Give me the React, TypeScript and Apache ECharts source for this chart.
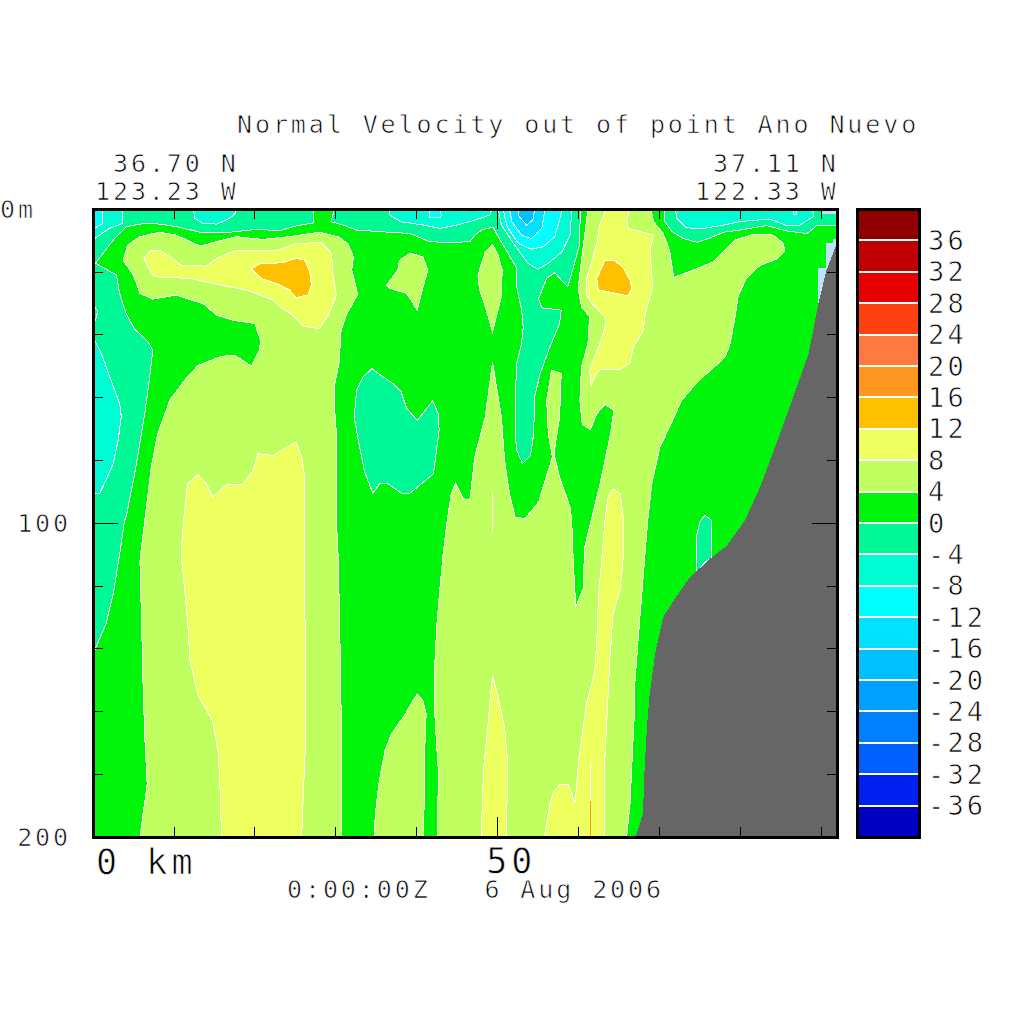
import React, { useEffect, useRef } from "react";
import * as echarts from "echarts";

// Contour levels of the colour bar (m/s-like units, lower bound of each band)
const levelBounds = [-40,-36,-32,-28,-24,-20,-16,-12,-8,-4,0,4,8,12,16,20,24,28,32,36];
const bandColors = ["#0000c0","#0020f0","#0060ff","#0080ff","#00a0ff","#00c0ff","#00e0ff","#00ffff","#00fcd2","#00f896",
  "#00f50a","#c0ff60","#eeff60","#ffc000","#ff9820","#ff7a40","#ff4010","#e80000","#c00000","#900000"];
const LAND = "#666666";
const MISSING = "#c0e0ff";

type P = number[][];
// Contour outlines as [distance km, depth m]
const neg4Left: P = [[0,0],[27.3,0],[27.3,4.4],[25.1,5.4],[23.1,6.9],[20.2,6.5],[16.9,7.4],[13.2,7.4],[10.3,5.6],[8.2,4.8],[6.4,4.6],[4.1,5.6],[2.5,9.9],[0.3,17.3],[2.9,21],[3.3,26.9],[4.1,33.3],[5.1,38.1],[6.8,42.3],[7.4,45],[7,53.5],[6.4,65.2],[5.3,82.2],[4.1,98.1],[3.9,99.2],[3.3,109.8],[2.5,122.6],[1.6,132.2],[0.1,141.2],[0,141.2]];
const neg4Mid: P = [[29.9,0],[29.4,4],[30.9,5.1],[32.6,6.7],[36.7,7.4],[39.2,7.8],[41.6,10.4],[44.1,10.7],[46.6,10.4],[47.2,8.3],[48.2,6.5],[49.5,5.8],[50.1,8.8],[51.1,13.1],[52.4,18.9],[52.4,24.8],[53,32.2],[53.2,37.5],[53,42.8],[52.4,49.2],[52.2,60.9],[52.2,71.5],[52.4,76.9],[53.1,81.1],[54.1,78.5],[54.5,71.5],[54.6,59.8],[55.3,52.4],[56.5,43.9],[57.7,36.5],[57.9,32.2],[55.5,31.5],[55.1,28.5],[56.1,22.1],[57.1,20.3],[57.9,22.6],[58.7,24.8],[59.2,20.5],[60.1,12],[60.3,0]];
const neg4Right: P = [[70.7,0],[70.7,4],[71.6,7.2],[73,9.4],[74.7,10.6],[76.1,9.4],[78,7.4],[80,6.7],[83.3,5.3],[85.8,7],[88.3,7.8],[89.5,5.3],[92,5.1],[92,0]];
const neg4Blob: P = [[34.5,50.8],[35.9,53.5],[37.1,55.6],[38.1,58.2],[38.8,63.6],[40.1,67.3],[42,61.1],[42.7,65.2],[42.8,70.5],[42.1,84.3],[40.4,88],[39.1,90.7],[38.1,90.5],[36.5,87.5],[35.5,87.3],[34.6,90.5],[33.6,83.8],[32.8,73.7],[32.3,66.2],[32.6,57.7],[33.4,53.5]];
const neg4Shelf: P = [[74.6,115.7],[74.6,104.5],[75.1,99.2],[75.7,97.6],[76.5,99.2],[76.5,111.1],[75.7,112.5]];
const neg8Corner: P = [[0,0],[3.7,0],[3.7,4.6],[2,6.2],[0.1,9.6],[0,9.6]];
const neg8TopA: P = [[12.4,0],[12.6,3],[13.6,4.6],[15.3,4.8],[16.9,3],[17.6,1.4],[17.6,0]];
const neg8TopB: P = [[36.7,0],[36.7,1.9],[38,4],[40.8,5.1],[42.9,6.2],[45,5.1],[47,3.7],[49.1,1.9],[49.3,0]];
const neg8Center: P = [[50.1,0],[50.5,5.1],[52,11],[53.8,17.3],[55,19.2],[56.3,17.3],[58,13.6],[59,8.3],[59.2,0]];
const neg8Right: P = [[72,0],[72.2,3],[73.4,6],[75.5,6.2],[78,5.1],[80,4],[83.7,3.2],[85.8,5.3],[87.4,5.1],[89.1,2.4],[89,0]];
const neg8Column: P = [[0,41.2],[0.1,41.2],[1.2,47.1],[2.3,55.1],[3.3,62],[3.5,66.2],[3.1,73.7],[2.5,81.1],[1.6,86.4],[0.8,90.7],[0,90.7]];
const neg8Small: P = [[0,30.6],[0.1,30.6],[0.6,32.7],[0.1,37],[0,37]];
const neg12Corner: P = [[0,0],[1.2,0],[1.2,4.6],[0.1,6.2],[0,6.2]];
const neg12TopB: P = [[41.6,0],[41.6,2.7],[42.9,2.7],[43.1,1.9],[42.8,0]];
const neg12Center: P = [[50.7,0],[51.2,5.6],[52.6,11],[54.2,12.8],[55.7,12],[57.1,8.8],[57.7,3.5],[58,0]];
const neg12Right: P = [[86.6,0],[86.6,1.7],[87,1.7],[87,0]];
const neg16Center: P = [[51.5,0],[51.8,4],[53,8.3],[54.2,9.4],[55.5,6.2],[55.9,0]];
const neg20Center: P = [[52.5,0],[52.7,2.4],[53.6,5.1],[54.4,3.5],[54.6,0]];
const pos4Left: P = [[3.7,16.3],[4.3,11.5],[5.8,8.8],[8.2,7.4],[10.3,8.3],[12,10.4],[13.2,11.8],[15.3,10.4],[17.7,8.8],[21,9.7],[24.3,8.8],[28,7.4],[30.3,8.8],[31.5,11],[32.2,15.2],[32,19.5],[32.6,25.8],[32.7,27.4],[31.3,33.8],[30.6,39.6],[30.5,48.2],[29.9,55.6],[29.8,60.9],[30.1,71.5],[30.1,99.2],[30.3,109.8],[30.5,131.1],[30.7,163],[30.7,200],[5.8,200],[6.7,183.2],[6.4,168.3],[6.2,152.4],[6,131.1],[5.8,112],[6.4,99.2],[7.2,82.2],[8,71.5],[9.5,60.9],[11.5,54],[13,49.8],[15.9,46.9],[17.5,46.6],[19.6,50],[20.6,45],[20.7,41.8],[20,36.5],[17.3,35.4],[15.3,33.8],[13.6,30.1],[11.5,28.5],[10.3,27.4],[7.4,28.7],[5.8,26.9],[5,21]];
const pos4BlobA: P = [[36.3,24.2],[37.7,19.5],[37.9,16.3],[39.2,14.1],[40.8,15.2],[41.4,19.5],[40.6,26.9],[40.1,32.2],[39.6,30.1],[38.8,26.9],[36.7,25.3]];
const pos4BlobB: P = [[47.6,21.1],[48.5,13.6],[49.4,11.3],[50.1,14.7],[50.6,19.5],[50.5,28],[49.4,39.1],[48.5,31.1],[47.8,25.8]];
const pos4Bottom: P = [[34.8,200],[34.9,192.7],[35.4,182.1],[36.1,172.5],[36.9,167.2],[38.6,160.9],[39.8,155.5],[40.1,154.5],[40.8,156.6],[41.2,160.9],[41,173.6],[40.9,200]];
const pos4Main: P = [[42.6,200],[42.7,178.9],[42.3,163],[42.2,148.1],[42.5,133.2],[42.9,120.5],[43.3,109.8],[43.8,99.2],[44.3,90.7],[44.8,87.3],[45.4,90.1],[45.8,92.3],[46.6,92.6],[47.2,79],[48.5,66.2],[49.4,48.7],[50.5,66.2],[50.9,80],[51.5,90.7],[52.2,98.1],[53.4,98.6],[55.1,93.3],[56.8,79],[56.3,71.5],[56.1,60.9],[56.7,51.3],[57.9,52.4],[57.7,66.2],[57,78],[57.7,85.4],[59,95],[59.2,99.2],[59.4,113],[59.7,126.8],[60.6,121],[60.8,107.7],[61.6,99.2],[62.7,87.5],[64,71.5],[64.4,64.1],[63.3,62.2],[62.3,65.2],[61.5,70.3],[60.5,68.6],[60.2,60.9],[60.4,50.3],[61.2,42.8],[61.4,34.3],[60.4,31.1],[60,25.3],[60.3,18.4],[61.2,0],[69,0],[69.3,4],[70.5,7.8],[71.3,13.1],[71.8,21.8],[74.2,19.5],[76.7,16.8],[78.4,12.5],[79.4,9.9],[81.7,8],[84.1,8.3],[85.4,11],[85.5,13.6],[84.5,16],[82.5,17.9],[80.8,22.1],[79.8,27.4],[79.4,34.3],[78.8,42.8],[78.2,47.1],[75.9,52.4],[74.2,56.7],[72.8,60.9],[71.3,69.4],[70.1,75.8],[69.1,87.5],[68.6,99.2],[68,118.3],[67.4,137.5],[67,151.3],[66.9,163],[66.7,173.6],[66.4,189.6],[66,200]];
const pos8Upper: P = [[6.3,15.7],[7.2,13.1],[8.2,13.1],[9.5,15.2],[10.9,17.9],[14,18.2],[15.3,15.7],[17.7,13.1],[20.6,13.1],[22.7,13.3],[25.1,11],[28.2,10.7],[29.5,14.1],[29.7,21.6],[30.1,27.4],[29.1,33.8],[28,38.1],[26,37.3],[24.7,33.8],[23.1,31.1],[22.3,29],[19,25.8],[16.5,24.6],[12,22.1],[7.6,21.6],[6.9,18.9]];
const pos8Column: P = [[11.7,87.5],[13,84.6],[14,87.5],[14.8,91.7],[16.5,87.8],[18.5,87.8],[19.8,83.2],[20.4,77.9],[22.3,78.5],[23.7,76.3],[25.1,74.2],[25.8,79],[26.2,85.4],[26.2,99.2],[26.2,123.7],[26.3,168.3],[25.8,200],[15.9,200],[15.7,184.2],[15.5,173.6],[14.8,163],[13,155],[12,143.8],[11.7,131.1],[11.3,120.5],[10.9,109.8],[11.2,99.2]];
const pos8Top: P = [[63.5,0],[62.7,4.6],[62.3,11],[61,22.6],[61,26.9],[61.7,30.1],[63.3,34.3],[63.4,37],[62.7,42.8],[61.4,51.3],[61.6,56.1],[62.5,51.3],[65.2,51],[66.4,49.2],[66.8,43.9],[68,39.1],[68.3,33.3],[69.2,24.8],[68.9,13.1],[69.3,8.3],[66.2,6.2],[66,3.5],[66.4,0]];
const pos8Lower: P = [[63.3,99.2],[63.7,91.7],[64.3,89.1],[65.2,90.7],[65.6,99.2],[65.6,109.8],[65.2,121],[64.3,129],[63.9,143.8],[63.5,165.1],[63.2,180],[63.2,200],[55.8,200],[56.5,189.6],[56.9,185.8],[57.7,183.4],[58.8,183.4],[59.6,189],[60.1,174.7],[61,157.7],[62,148.1],[62.3,137.5],[62.5,123.7],[62.9,112]];
const pos8Spike: P = [[48,200],[48.3,177.9],[48.7,168.3],[49.1,156.6],[49.4,148.6],[50.1,155.5],[50.9,165.1],[51.3,176.8],[51.1,200]];
const pos12Left: P = [[19.6,19.1],[20.6,17.5],[23.5,17.1],[25.1,15.7],[26.2,16.3],[26.8,20],[27,24.2],[26.6,27.4],[25.1,28.2],[24.3,25.8],[22.7,23.7],[20.8,22.1]];
const pos12Right: P = [[63.3,16.3],[64.5,16.3],[65.6,18.9],[66.4,22.6],[66.6,25.3],[66.2,27.7],[64.7,26.9],[62.5,25.8],[62.3,22.1]];
const missingTop: P = [[90.1,0],[92,0],[92,1.5],[90.1,1.5]];
const missingSlope: P = [[91.5,9.4],[92,9.4],[92,30.6],[89.6,30.6],[89.6,18.9],[90.6,18.9],[90.6,10.9],[91.5,10.9]];
const landOutline: P = [[67.1,200],[68,192.7],[68.2,178.9],[68.5,165.1],[68.8,155.5],[69.5,141.7],[70.5,130],[71.8,124.7],[73.8,117.3],[76.3,111.4],[78.4,107.2],[80.6,99.2],[82.5,88.5],[84.5,74.7],[86.6,59.8],[88.5,46],[89.7,30.1],[90.7,19.5],[91.9,11.5],[92,11.5],[92,200]];
const plotFull: P = [[0,0],[92,0],[92,200],[0,200]];
const whiteSeamA: P = [[49.4,90.5],[49.4,102.4]];
const whiteSeamB: P = [[61.5,176.3],[61.5,188.5]];
const orangeSeam: P = [[61.5,188.5],[61.5,200]];

const WHITE = "#ffffff";
const regions: { pts: P; fill: string; stroke: string }[] = [
  { pts: plotFull, fill: bandColors[10], stroke: "none" },
  ...[neg4Left, neg4Mid, neg4Right, neg4Blob, neg4Shelf].map((pts) => ({ pts, fill: bandColors[9], stroke: WHITE })),
  ...[neg8Corner, neg8TopA, neg8TopB, neg8Center, neg8Right, neg8Column, neg8Small].map((pts) => ({ pts, fill: bandColors[8], stroke: WHITE })),
  ...[neg12Corner, neg12TopB, neg12Center, neg12Right].map((pts) => ({ pts, fill: bandColors[7], stroke: WHITE })),
  { pts: neg16Center, fill: bandColors[6], stroke: WHITE },
  { pts: neg20Center, fill: bandColors[5], stroke: WHITE },
  ...[pos4Left, pos4BlobA, pos4BlobB, pos4Bottom, pos4Main].map((pts) => ({ pts, fill: bandColors[11], stroke: WHITE })),
  ...[pos8Upper, pos8Column, pos8Top, pos8Lower, pos8Spike].map((pts) => ({ pts, fill: bandColors[12], stroke: WHITE })),
  ...[pos12Left, pos12Right].map((pts) => ({ pts, fill: bandColors[13], stroke: WHITE })),
  ...[missingTop, missingSlope].map((pts) => ({ pts, fill: MISSING, stroke: "none" })),
  { pts: landOutline, fill: LAND, stroke: "none" },
];
const seams: { pts: P; stroke: string }[] = [
  { pts: whiteSeamA, stroke: WHITE },
  { pts: whiteSeamB, stroke: WHITE },
  { pts: orangeSeam, stroke: bandColors[14] },
];

const FONT = "'DejaVu Sans Mono', monospace";
const titleText = "Normal Velocity out of point Ano Nuevo";
const dateText = "0:00:00Z   6 Aug 2006";
const cornerLabels = [
  { text: titleText, x: 237, y: 124, size: 25 },
  { text: "36.70 N", x: 113, y: 163, size: 25 },
  { text: "123.23 W", x: 95, y: 191, size: 25 },
  { text: "37.11 N", x: 713, y: 163, size: 25 },
  { text: "122.33 W", x: 695, y: 191, size: 25 },
  { text: "0m", x: 0, y: 209, size: 25 },
  { text: "0 km", x: 96, y: 862, size: 35 },
  { text: dateText, x: 287, y: 889, size: 25 },
];

const tickBase = { lineStyle: { color: "#000", width: 1 }, inside: true };
const plainX = (position: string, interval: number, length: number, extra: any = {}) => ({
  type: "value", gridIndex: 0, position, min: 0, max: 92, interval, z: 10,
  axisLine: { show: false, onZero: false }, splitLine: { show: false },
  axisTick: { show: true, length, ...tickBase },
  axisLabel: { show: false }, ...extra,
});
const plainY = (position: string, interval: number, length: number, extra: any = {}) => ({
  type: "value", gridIndex: 0, position, min: 0, max: 200, interval, inverse: true, z: 10,
  axisLine: { show: false, onZero: false }, splitLine: { show: false },
  axisTick: { show: true, length, ...tickBase },
  axisLabel: { show: false }, ...extra,
});

export default function App() {
  const ref = useRef<HTMLDivElement>(null);
  useEffect(() => {
    const chart = echarts.init(ref.current!, undefined, { renderer: "svg" });
    chart.setOption({
      animation: false,
      backgroundColor: "#ffffff",
      grid: [
        { left: 93, top: 209, width: 744, height: 628, show: true, borderColor: "#000", borderWidth: 3, z: 11 },
        { left: 857, top: 209, width: 62, height: 628, show: true, borderColor: "#000", borderWidth: 3, z: 11 },
      ],
      xAxis: [
        plainX("bottom", 10, 10, {
          axisLabel: {
            show: true, margin: 11, fontFamily: FONT, fontSize: 35, lineHeight: 26, color: "#000", padding: [0, 0, 0, 28],
            formatter: (v: number) => (v === 50 ? "50" : ""),
          },
        }),
        plainX("top", 10, 10),
        plainX("bottom", 50, 20),
        plainX("top", 50, 20),
        { type: "value", gridIndex: 1, min: 0, max: 1, show: false },
      ],
      yAxis: [
        plainY("left", 20, 10, {
          axisLabel: {
            show: true, margin: 22, fontFamily: FONT, fontSize: 25, color: "#000",
            formatter: (v: number) => (v === 100 || v === 200 ? String(v) : ""),
          },
        }),
        plainY("right", 20, 10),
        plainY("left", 100, 25),
        plainY("right", 100, 25),
        {
          type: "value", gridIndex: 1, position: "right", min: -40, max: 40, interval: 4,
          axisLine: { show: false, onZero: false }, axisTick: { show: false }, splitLine: { show: false },
          axisLabel: {
            show: true, margin: 9, fontFamily: FONT, fontSize: 27, color: "#000",
            formatter: (v: number) => (Math.abs(v) === 40 ? "" : String(v)),
          },
        },
      ],
      graphic: cornerLabels.map((l) => ({
        type: "text", x: l.x, y: l.y, z: 20,
        style: { text: l.text, font: `${l.size}px ${FONT}`, fill: "#000", textAlign: "left", textVerticalAlign: "middle" },
      })),
      series: [
        {
          type: "custom", xAxisIndex: 0, yAxisIndex: 0, clip: true, z: 2,
          data: regions.map((r) => r.pts[0]),
          renderItem: (params: any, api: any) => {
            const r = regions[params.dataIndex];
            return {
              type: "polygon",
              shape: { points: r.pts.map((p) => api.coord(p)) },
              style: { fill: r.fill, stroke: r.stroke, lineWidth: 1 },
            };
          },
        },
        {
          type: "custom", xAxisIndex: 0, yAxisIndex: 0, clip: true, z: 3,
          data: seams.map((s) => s.pts[0]),
          renderItem: (params: any, api: any) => {
            const s = seams[params.dataIndex];
            return {
              type: "polyline",
              shape: { points: s.pts.map((p) => api.coord(p)) },
              style: { fill: "none", stroke: s.stroke, lineWidth: 1 },
            };
          },
        },
        {
          type: "custom", xAxisIndex: 4, yAxisIndex: 4, z: 2,
          data: levelBounds.map((lo) => [0, lo]),
          renderItem: (params: any, api: any) => {
            const lo = levelBounds[params.dataIndex];
            const hi = lo + 4;
            const a = api.coord([0, hi]);
            const b = api.coord([1, lo]);
            const children: any[] = [
              { type: "rect", shape: { x: a[0], y: a[1], width: b[0] - a[0], height: b[1] - a[1] }, style: { fill: bandColors[params.dataIndex] } },
            ];
            if (lo > -40) {
              children.push({ type: "line", z2: 5, shape: { x1: a[0], y1: b[1], x2: b[0], y2: b[1] }, style: { stroke: "#fff", lineWidth: 2 } });
            }
            return { type: "group", children };
          },
        },
      ],
    });
    return () => chart.dispose();
  }, []);
  return (
    <>
      <style>{`
        html, body { margin: 0; background: #fff; overflow: hidden; }
        #chart path { shape-rendering: crispEdges; }
        #chart text { letter-spacing: 0.116em; white-space: pre; paint-order: fill stroke; stroke: #fff; stroke-width: 0.75px; }
      `}</style>
      <div ref={ref} id="chart" style={{ position: "fixed", left: 0, top: 0, width: 1024, height: 1024 }} />
    </>
  );
}
